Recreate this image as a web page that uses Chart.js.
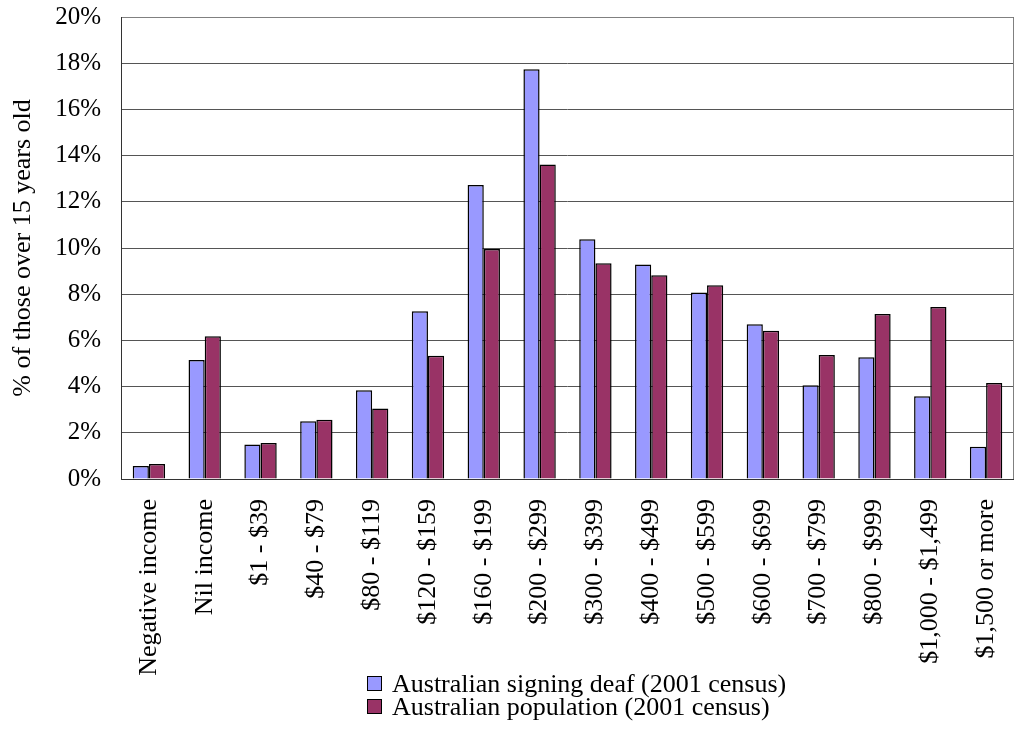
<!DOCTYPE html>
<html>
<head>
<meta charset="utf-8">
<script src="https://cdn.jsdelivr.net/npm/chart.js@4/dist/chart.umd.min.js"></script>
<style>
  html, body { margin: 0; padding: 0; background: #fff; }
  #wrap { position: relative; width: 1018px; height: 729px; }
  #legend { position: absolute; left: 367px; top: 672px; font-family: "Liberation Serif", serif; font-size: 26px; line-height: 23px; color: #000; }
  #legend div { display: flex; align-items: center; white-space: nowrap; }
  #legend span.box { display: inline-block; width: 13px; height: 13px; border: 1px solid #000; margin-right: 10px; }
</style>
</head>
<body>
<div id="wrap">
  <canvas id="chart" width="1018" height="729"></canvas>
  <div id="legend"></div>
</div>
<script>
const CATEGORIES = ['Negative income', 'Nil income', '$1 - $39', '$40 - $79', '$80 - $119', '$120 - $159',
  '$160 - $199', '$200 - $299', '$300 - $399', '$400 - $499', '$500 - $599', '$600 - $699',
  '$700 - $799', '$800 - $999', '$1,000 - $1,499', '$1,500 or more'];
const DEAF = [0.56, 5.15, 1.49, 2.50, 3.84, 7.26, 12.73, 17.74, 10.38, 9.29, 8.07, 6.70, 4.06, 5.27, 3.58, 1.40];
const POPULATION = [0.65, 6.18, 1.56, 2.57, 3.05, 5.34, 9.96, 13.62, 9.34, 8.82, 8.39, 6.42, 5.37, 7.14, 7.45, 4.16];
const SERIES = ['Australian signing deaf (2001 census)', 'Australian population (2001 census)'];
const FILLS = ['#9999ff', '#993366'];

const FONT = 'Liberation Serif';

// plot area frame: grey top/right, dark left/bottom
const frame = {
  id: 'frame',
  afterDatasetsDraw(chart) {
    const { ctx, chartArea: a } = chart;
    ctx.save();
    ctx.strokeStyle = '#808080';
    ctx.lineWidth = 1;
    ctx.beginPath();
    ctx.moveTo(a.left, a.top + 0.5);
    ctx.lineTo(a.right - 0.5, a.top + 0.5);
    ctx.lineTo(a.right - 0.5, a.bottom);
    ctx.stroke();
    ctx.strokeStyle = '#333';
    ctx.beginPath();
    ctx.moveTo(a.left + 0.5, a.top);
    ctx.lineTo(a.left + 0.5, a.bottom + 0.5);
    ctx.lineTo(a.right, a.bottom + 0.5);
    ctx.stroke();
    ctx.restore();
  }
};

new Chart(document.getElementById('chart'), {
  type: 'bar',
  data: {
    labels: CATEGORIES,
    datasets: [
      { label: SERIES[0], data: DEAF, backgroundColor: FILLS[0], borderColor: '#000', borderWidth: 1.5 },
      { label: SERIES[1], data: POPULATION, backgroundColor: FILLS[1], borderColor: '#000', borderWidth: 1.5 },
    ],
  },
  options: {
    responsive: false, animation: false,
    layout: { padding: 0 },
    plugins: { legend: { display: false }, tooltip: { enabled: false } },
    datasets: { bar: { categoryPercentage: 0.58, barPercentage: 1 } },
    scales: {
      x: {
        grid: { display: false, drawTicks: false },
        border: { display: false },
        ticks: { color: '#000', font: { family: FONT, size: 26 }, maxRotation: 90, minRotation: 90, padding: 20, autoSkip: false },
        afterFit: s => { s.height = 250; s.paddingLeft = 0; s.paddingRight = 4; },
      },
      y: {
        min: 0, max: 20,
        grid: { color: '#555', drawTicks: false },
        border: { display: false },
        ticks: { stepSize: 2, color: '#000', font: { family: FONT, size: 25 }, padding: 20, callback: v => v + '%' },
        title: { display: true, text: '% of those over 15 years old', color: '#000', font: { family: FONT, size: 26 }, padding: { top: 8, bottom: 0 } },
        afterFit: s => { s.width = 121; s.paddingTop = 17; s.paddingBottom = 0; },
      },
    },
  },
  plugins: [frame],
});

const legend = document.getElementById('legend');
SERIES.forEach((name, i) => {
  const row = document.createElement('div');
  row.innerHTML = `<span class="box" style="background:${FILLS[i]}"></span>${name}`;
  legend.appendChild(row);
});
</script>
</body>
</html>
